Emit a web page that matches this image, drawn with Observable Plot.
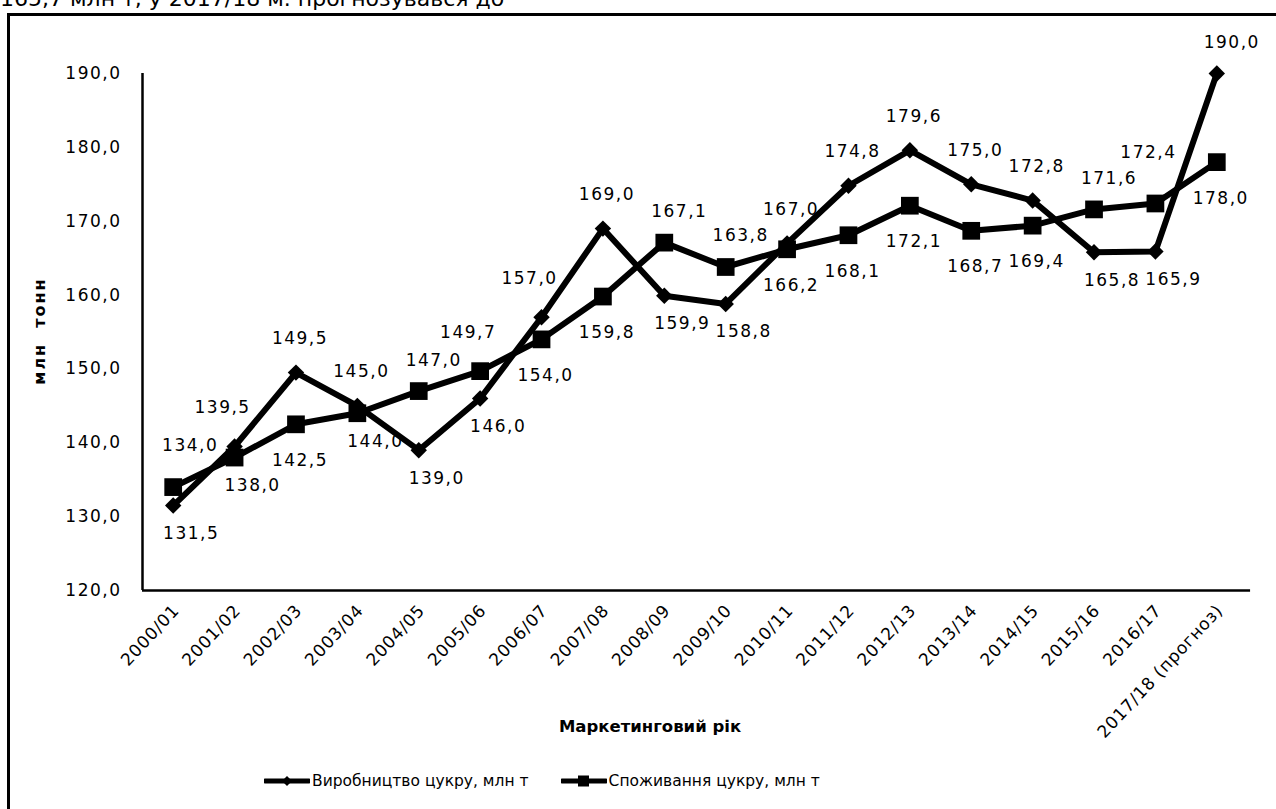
<!DOCTYPE html>
<html>
<head>
<meta charset="utf-8">
<script src="https://cdn.jsdelivr.net/npm/d3@7"></script>
<script src="https://cdn.jsdelivr.net/npm/@observablehq/plot@0.6"></script>
<style>
  html, body { margin: 0; padding: 0; background: #fff; }
  body { width: 1276px; height: 809px; position: relative; overflow: hidden; font-family: "DejaVu Sans", sans-serif; }
  #topline { position: absolute; left: 0px; top: -14px; font-size: 22px; white-space: nowrap; color: #000; }
  #frame { position: absolute; left: 7px; top: 13px; width: 1300px; height: 900px; border: 3px solid #000; }
  #chart { position: absolute; left: 0; top: 0; }
  #chart svg g[aria-label="text"] text { letter-spacing: 1.5px; }
  #chart svg g[aria-label="y-axis tick label"] text { letter-spacing: 1.5px; }
  #chart svg g[aria-label="x-axis tick label"] text { letter-spacing: 0.8px; }
  #ytitle { position: absolute; left: 39px; top: 331px; transform: translate(-50%, -50%) rotate(-90deg); font-weight: bold; font-size: 16px; letter-spacing: 2px; white-space: pre; }
  #xtitle { position: absolute; left: 650px; top: 726px; transform: translate(-50%, -50%); font-weight: bold; font-size: 16.5px; white-space: nowrap; }
  #legend { position: absolute; top: 772px; left: 264px; display: flex; align-items: center; font-size: 15.5px; white-space: nowrap; }
  #legend .item { display: flex; align-items: center; margin-right: 32px; }
  #legend svg { margin-right: 2px; }
</style>
</head>
<body>
<div id="topline">165,7 млн т, у 2017/18 м. прогнозувався до</div>
<div id="frame"></div>
<div id="chart"></div>
<div id="ytitle">млн  тонн</div>
<div id="xtitle">Маркетинговий рік</div>
<div id="legend"></div>
<script>
// ---- data ----
const years = ["2000/01","2001/02","2002/03","2003/04","2004/05","2005/06","2006/07","2007/08","2008/09","2009/10","2010/11","2011/12","2012/13","2013/14","2014/15","2015/16","2016/17","2017/18 (прогноз)"];
const production = [131.5,139.5,149.5,145.0,139.0,146.0,157.0,169.0,159.9,158.8,167.0,174.8,179.6,175.0,172.8,165.8,165.9,190.0];
const consumption = [134.0,138.0,142.5,144.0,147.0,149.7,154.0,159.8,167.1,163.8,166.2,168.1,172.1,168.7,169.4,171.6,172.4,178.0];
const yTicks = [120,130,140,150,160,170,180,190];
const seriesNames = ["Виробництво цукру, млн т","Споживання цукру, млн т"];
// label placement codes (a = above, b = below, br = below-right, ar = above-right, al = above-left)
const prodLabelAt = ["br","al","a","a","br","br","al","a","br","br","a","a","a","a","a","br","br","ar"];
const consLabelAt = ["ar2","br","b","br","ar","al","b","b","ar","ar","b","b","b","b","b","ar","al2","b"];

// ---- build ----
const fmt = v => v.toFixed(1).replace(".", ",");
const prod = production.map((v, i) => ({i, v, pos: prodLabelAt[i]}));
const cons = consumption.map((v, i) => ({i, v, pos: consLabelAt[i]}));
const offsets = {a:[4,-34], b:[4,36], br:[18,28], ar:[15,-31], al:[-12,-39], ar2:[17,-42], al2:[-7,-51]};

const labelMarks = [];
for (const [code, [dx, dy]] of Object.entries(offsets)) {
  for (const data of [prod, cons]) {
    const sub = data.filter(d => d.pos === code);
    if (sub.length) labelMarks.push(Plot.text(sub, {x: "i", y: "v", text: d => fmt(d.v), dx, dy, fill: "black", fontSize: 17}));
  }
}

const chart = Plot.plot({
  width: 1276,
  height: 760,
  marginLeft: 142,
  marginRight: 29,
  marginTop: 73,
  marginBottom: 170,
  style: {fontFamily: "DejaVu Sans, sans-serif", fontSize: "17px", color: "black", background: "transparent", overflow: "visible"},
  x: {domain: [-0.5, years.length - 0.5], label: null},
  y: {domain: [120, 190], label: null},
  marks: [
    Plot.axisY({ticks: yTicks, tickSize: 0, tickPadding: 21, tickFormat: fmt, label: null}),
    Plot.axisX({ticks: d3.range(years.length), tickFormat: i => years[i], tickSize: 0, tickRotate: -47, tickPadding: 17, dx: 3, label: null}),
    Plot.ruleY([120], {x1: -0.5, x2: years.length - 0.45, stroke: "black", strokeWidth: 2.5}),
    Plot.ruleX([-0.5], {y1: 120, y2: 190, stroke: "black", strokeWidth: 2.5}),
    Plot.line(cons, {x: "i", y: "v", stroke: "black", strokeWidth: 6, strokeLinejoin: "round"}),
    Plot.line(prod, {x: "i", y: "v", stroke: "black", strokeWidth: 6, strokeLinejoin: "round"}),
    Plot.dot(cons, {x: "i", y: "v", symbol: "square", r: 10, fill: "black"}),
    Plot.dot(prod, {x: "i", y: "v", symbol: "diamond2", r: 7.4, fill: "black"}),
    ...labelMarks
  ]
});
document.getElementById("chart").appendChild(chart);

// ---- legend ----
const legend = document.getElementById("legend");
const markers = [
  `<polygon points="23,1 28,6 23,11 18,6" fill="black"/>`,
  `<rect x="17" y="0.5" width="11" height="11" fill="black"/>`
];
seriesNames.forEach((name, k) => {
  const item = document.createElement("div");
  item.className = "item";
  item.innerHTML = `<svg width="46" height="12" viewBox="0 0 46 12"><line x1="1" y1="6" x2="45" y2="6" stroke="black" stroke-width="5" stroke-linecap="round"/>${markers[k]}</svg><span>${name}</span>`;
  legend.appendChild(item);
});
</script>
</body>
</html>
